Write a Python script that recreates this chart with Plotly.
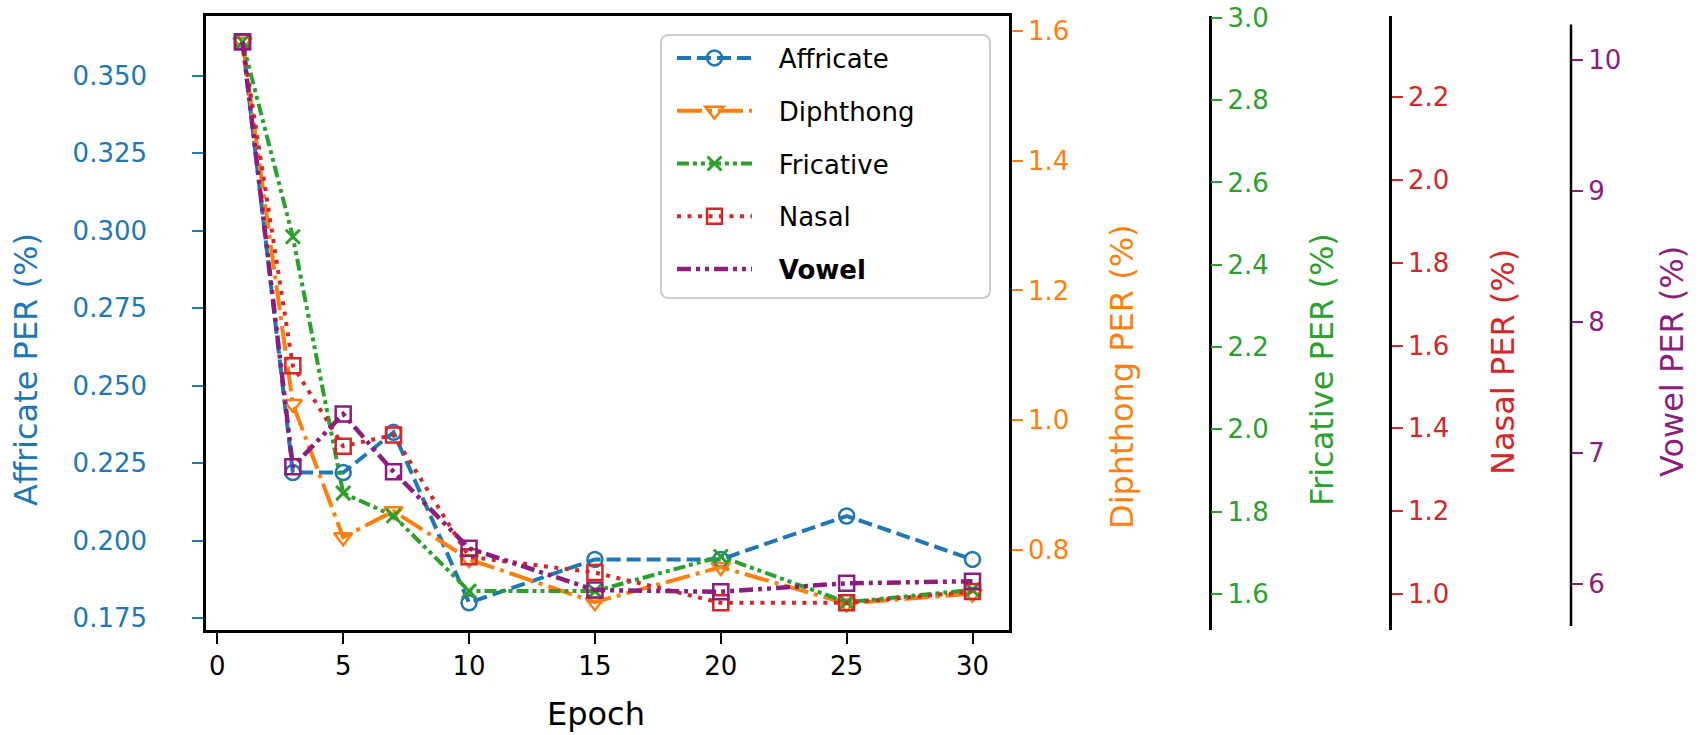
import plotly.graph_objects as go

# ---------------- data ----------------
epochs = [1, 3, 5, 7, 10, 15, 20, 25, 30]
affricate = [0.361, 0.222, 0.222, 0.235, 0.180, 0.194, 0.194, 0.208, 0.194]
diphthong = [1.583, 1.025, 0.820, 0.860, 0.786, 0.720, 0.774, 0.718, 0.733]
fricative = [2.942, 2.468, 1.845, 1.790, 1.607, 1.607, 1.691, 1.580, 1.610]
nasal = [2.333, 1.551, 1.357, 1.384, 1.090, 1.052, 0.979, 0.979, 1.006]
vowel = [10.142, 6.895, 7.298, 6.857, 6.272, 5.953, 5.940, 6.005, 6.020]

names = ["Affricate", "Diphthong", "Fricative", "Nasal", "Vowel"]
x_ticks = [0, 5, 10, 15, 20, 25, 30]

# ---------------- style ----------------
W, H = 1705, 735
ML, MR, MT, MB = 206, 105, 16, 105
PW = W - ML - MR
PH = H - MT - MB
FONT = "DejaVu Sans"
C_BLUE, C_ORANGE, C_GREEN, C_RED, C_PURPLE = "#1f77b4", "#ff7f0e", "#2ca02c", "#d62728", "#8c1d7d"
GAP = "\u00a0\u00a0\u2009"

def px_x(p):
    return (p - ML) / PW

def px_y(p):
    return (MT + PH - p) / PH

fig = go.Figure()

fig.add_trace(go.Scatter(x=epochs, y=affricate, name=GAP + names[0], yaxis="y",
                         mode="lines+markers",
                         line=dict(color=C_BLUE, width=4, dash="14px,6px"),
                         marker=dict(symbol="circle-open", size=15, color=C_BLUE, line=dict(width=2.5, color=C_BLUE))))
fig.add_trace(go.Scatter(x=epochs, y=diphthong, name=GAP + names[1], yaxis="y2",
                         mode="lines+markers",
                         line=dict(color=C_ORANGE, width=4, dash="25px,6px,4px,6px"),
                         marker=dict(symbol="triangle-down-open", size=16, color=C_ORANGE, line=dict(width=2.5, color=C_ORANGE))))
fig.add_trace(go.Scatter(x=epochs, y=fricative, name=GAP + names[2], yaxis="y3",
                         mode="lines+markers",
                         line=dict(color=C_GREEN, width=4, dash="12px,4px,4px,4px,4px,4px"),
                         marker=dict(symbol="x-thin-open", size=14, color=C_GREEN, line=dict(width=3, color=C_GREEN))))
fig.add_trace(go.Scatter(x=epochs, y=nasal, name=GAP + names[3], yaxis="y4",
                         mode="lines+markers",
                         line=dict(color=C_RED, width=4, dash="4px,6.5px"),
                         marker=dict(symbol="square-open", size=15, color=C_RED, line=dict(width=2.5, color=C_RED))))
fig.add_trace(go.Scatter(x=epochs, y=vowel, name=names[4], yaxis="y5", showlegend=False,
                         mode="lines+markers",
                         line=dict(color=C_PURPLE, width=4.5, dash="14px,5px,4px,5px,4px,5px"),
                         marker=dict(symbol="square-open", size=15, color=C_PURPLE, line=dict(width=2.5, color=C_PURPLE))))
# legend entry for Vowel (line only, bold label)
fig.add_trace(go.Scatter(x=[None], y=[None], name=GAP + "<b>" + names[4] + "</b>", yaxis="y5",
                         mode="lines",
                         line=dict(color=C_PURPLE, width=4.5, dash="14px,5px,4px,5px,4px,5px")))

for i, tr in enumerate(fig.data):
    tr.legendgroup = "g%d" % i

tickfont = lambda c: dict(family=FONT, size=26, color=c)
dom_r = px_x(1009)

common = dict(showgrid=False, zeroline=False, automargin=False, ticks="outside",
              ticklen=11, tickwidth=2, linecolor="black", linewidth=2.5)

fig.update_layout(
    width=W, height=H,
    margin=dict(l=ML, r=MR, t=MT, b=MB, autoexpand=False),
    paper_bgcolor="white", plot_bgcolor="white",
    font=dict(family=FONT, size=26, color="black"),
    showlegend=True,
    xaxis=dict(domain=[0, dom_r], range=[-0.45, 31.45], tickvals=x_ticks,
               showline=True, mirror=True, tickcolor="black",
               tickfont=tickfont("black"), **common),
    yaxis=dict(range=[0.17123, 0.3693], tick0=0, dtick=0.025, tickformat=".3f",
               showline=True, mirror=True, tickcolor=C_BLUE, tickfont=tickfont(C_BLUE),
               ticklabelstandoff=40, **common),
    yaxis2=dict(range=[0.6771, 1.6225], tick0=0, dtick=0.2, tickformat=".1f",
                overlaying="y", side="right", anchor="x", showline=True,
                tickcolor=C_ORANGE, tickfont=tickfont(C_ORANGE), **common),
    yaxis3=dict(range=[1.5125, 3.0046], tick0=0, dtick=0.2, tickformat=".1f",
                overlaying="y", side="right", anchor="free", position=px_x(1209.5),
                showline=True, tickcolor=C_GREEN, tickfont=tickfont(C_GREEN), **common),
    yaxis4=dict(range=[0.9133, 2.3954], tick0=0, dtick=0.2, tickformat=".1f",
                overlaying="y", side="right", anchor="free", position=px_x(1390),
                showline=True, tickcolor=C_RED, tickfont=tickfont(C_RED), **common),
    yaxis5=dict(range=[5.648, 10.338], tick0=0, dtick=1,
                overlaying="y", side="right", anchor="free", position=px_x(1571),
                showline=False, tickcolor=C_PURPLE, tickfont=tickfont(C_PURPLE), **common),
    legend=dict(x=px_x(672), y=px_y(34.5), xanchor="left", yanchor="top",
                bgcolor="rgba(0,0,0,0)", borderwidth=0,
                font=dict(family=FONT, size=26, color="black"),
                itemwidth=75, tracegroupgap=16, traceorder="grouped"),
)

# vowel spine (slightly shorter than the frame)
fig.add_shape(type="line", xref="paper", yref="paper",
              x0=px_x(1571), x1=px_x(1571), y0=px_y(626), y1=px_y(24.4),
              line=dict(color="black", width=2.5))

# legend box (rounded)
lx0, lx1, ly0, ly1 = px_x(661), px_x(990), px_y(298), px_y(35)
rx, ry = 8 / PW, 8 / PH
path = (f"M{lx0+rx},{ly1} L{lx1-rx},{ly1} Q{lx1},{ly1} {lx1},{ly1-ry} "
        f"L{lx1},{ly0+ry} Q{lx1},{ly0} {lx1-rx},{ly0} L{lx0+rx},{ly0} "
        f"Q{lx0},{ly0} {lx0},{ly0+ry} L{lx0},{ly1-ry} Q{lx0},{ly1} {lx0+rx},{ly1} Z")
fig.add_shape(type="path", path=path, xref="paper", yref="paper",
              line=dict(color="#cccccc", width=2), fillcolor="rgba(255,255,255,0.8)",
              layer="above")

# axis titles
titles = [
    ("Affricate PER (%)", C_BLUE, 26, 370),
    ("Diphthong PER (%)", C_ORANGE, 1122, 377),
    ("Fricative PER (%)", C_GREEN, 1322, 370),
    ("Nasal PER (%)", C_RED, 1503, 362),
    ("Vowel PER (%)", C_PURPLE, 1672, 362),
]
for text, col, cx, cy in titles:
    fig.add_annotation(text=text, xref="paper", yref="paper", x=px_x(cx), y=px_y(cy),
                       xanchor="center", yanchor="middle", textangle=-90, showarrow=False,
                       font=dict(family=FONT, size=32, color=col))
fig.add_annotation(text="Epoch", xref="paper", yref="paper", x=px_x(596), y=px_y(714),
                   xanchor="center", yanchor="middle", showarrow=False,
                   font=dict(family=FONT, size=32, color="black"))

fig.write_html("out.html")
